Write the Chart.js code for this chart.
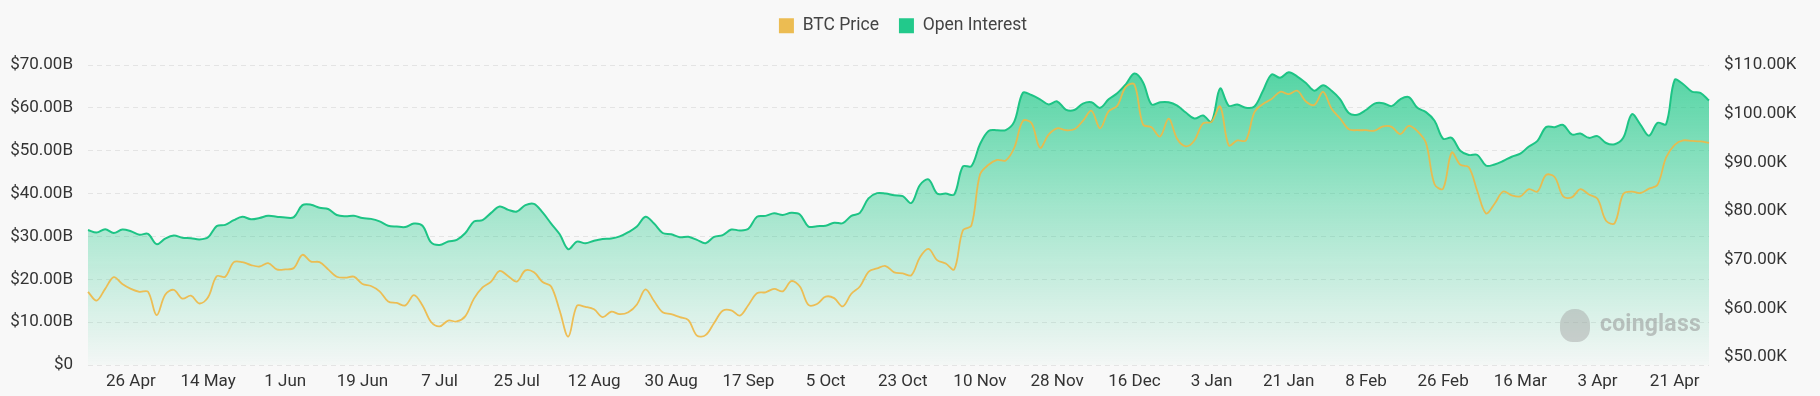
<!DOCTYPE html>
<html>
<head>
<meta charset="utf-8">
<script src="https://cdn.jsdelivr.net/npm/chart.js@4.4.1/dist/chart.umd.min.js"></script>
<style>
html,body{margin:0;padding:0;background:#f8f8f8;}
#wrap{position:relative;width:1820px;height:396px;overflow:hidden;}
#wm{position:absolute;left:1600px;top:310px;font:bold 23px Roboto,sans-serif;color:rgba(150,150,150,0.55);letter-spacing:0.2px;}
#wmicon{position:absolute;left:1560px;top:309px;width:30px;height:33px;border-radius:48% 48% 42% 42%;background:rgba(160,160,160,0.45);}
</style>
</head>
<body>
<div id="wrap">
<canvas id="c" width="1820" height="396"></canvas>
<div id="wmicon"></div>
<div id="wm">coinglass</div>
</div>
<script>
const categories = [
'16 Apr','18 Apr','20 Apr','22 Apr','24 Apr','26 Apr','28 Apr','30 Apr',
'2 May','4 May','6 May','8 May','10 May','12 May','14 May','16 May','18 May','20 May','22 May','24 May','26 May','28 May','30 May',
'1 Jun','3 Jun','5 Jun','7 Jun','9 Jun','11 Jun','13 Jun','15 Jun','17 Jun','19 Jun','21 Jun','23 Jun','25 Jun','27 Jun','29 Jun',
'1 Jul','3 Jul','5 Jul','7 Jul','9 Jul','11 Jul','13 Jul','15 Jul','17 Jul','19 Jul','21 Jul','23 Jul','25 Jul','27 Jul','29 Jul','31 Jul',
'2 Aug','4 Aug','6 Aug','8 Aug','10 Aug','12 Aug','14 Aug','16 Aug','18 Aug','20 Aug','22 Aug','24 Aug','26 Aug','28 Aug','30 Aug',
'1 Sep','3 Sep','5 Sep','7 Sep','9 Sep','11 Sep','13 Sep','15 Sep','17 Sep','19 Sep','21 Sep','23 Sep','25 Sep','27 Sep','29 Sep',
'1 Oct','3 Oct','5 Oct','7 Oct','9 Oct','11 Oct','13 Oct','15 Oct','17 Oct','19 Oct','21 Oct','23 Oct','25 Oct','27 Oct','29 Oct','31 Oct',
'2 Nov','4 Nov','6 Nov','8 Nov','10 Nov','12 Nov','14 Nov','16 Nov','18 Nov','20 Nov','22 Nov','24 Nov','26 Nov','28 Nov','30 Nov',
'2 Dec','4 Dec','6 Dec','8 Dec','10 Dec','12 Dec','14 Dec','16 Dec','18 Dec','20 Dec','22 Dec','24 Dec','26 Dec','28 Dec','30 Dec',
'1 Jan','3 Jan','5 Jan','7 Jan','9 Jan','11 Jan','13 Jan','15 Jan','17 Jan','19 Jan','21 Jan','23 Jan','25 Jan','27 Jan','29 Jan','31 Jan',
'2 Feb','4 Feb','6 Feb','8 Feb','10 Feb','12 Feb','14 Feb','16 Feb','18 Feb','20 Feb','22 Feb','24 Feb','26 Feb','28 Feb',
'2 Mar','4 Mar','6 Mar','8 Mar','10 Mar','12 Mar','14 Mar','16 Mar','18 Mar','20 Mar','22 Mar','24 Mar','26 Mar','28 Mar','30 Mar',
'1 Apr','3 Apr','5 Apr','7 Apr','9 Apr','11 Apr','13 Apr','15 Apr','17 Apr','19 Apr','21 Apr','23 Apr','25 Apr','27 Apr','29 Apr'
];

// BTC price, thousands of USD (right axis)
const btcPrice = [
63.4,61.6,64.0,66.4,65.0,64.0,63.4,63.4,58.6,62.8,
63.8,62.0,62.6,61.0,62.3,66.6,66.5,69.5,69.5,68.9,
68.6,69.3,68.0,68.0,68.3,71.0,69.6,69.5,68.0,66.5,
66.3,66.5,65.0,64.6,63.5,61.4,61.1,60.6,62.7,60.6,
57.2,56.3,57.5,57.3,58.4,62.0,64.3,65.5,67.7,66.6,
65.5,67.8,67.4,65.4,64.5,59.5,54.2,60.5,60.3,59.8,
58.2,59.3,58.8,59.2,60.8,63.9,61.5,59.2,58.8,58.2,
57.6,54.4,54.5,57.0,59.5,59.6,58.5,60.7,63.1,63.3,
64.0,63.5,65.6,64.5,60.7,60.9,62.4,62.1,60.4,63.0,
64.5,67.5,68.2,68.7,67.4,67.2,66.8,70.5,72.2,69.9,
69.2,68.0,76.0,77.0,87.5,89.5,90.5,90.4,93.0,98.5,
98.1,93.0,95.7,97.0,96.6,96.8,98.5,100.6,97.0,100.5,
101.6,105.5,106.0,97.8,97.2,95.3,99.0,94.8,93.3,94.5,
98.0,98.3,101.5,93.5,94.5,94.5,100.3,102.0,103.0,104.5,
104.0,104.7,102.5,101.8,104.5,101.0,99.0,96.8,96.6,96.6,
96.5,97.4,97.3,95.8,97.5,96.4,94.0,85.5,84.6,92.0,
89.5,89.0,84.0,79.5,81.5,84.0,83.2,83.0,84.5,84.0,
87.4,87.0,83.0,82.8,84.5,83.4,82.5,78.0,77.5,83.5,
84.0,83.7,84.6,85.4,91.0,93.6,94.5,94.4,94.3,94.0
];

// Open interest, billions of USD (left axis)
const openInterest = [
31.5,30.9,31.7,30.8,31.6,31.2,30.4,30.6,28.2,29.5,
30.2,29.7,29.6,29.3,29.8,32.4,32.7,33.8,34.6,34.0,
34.3,34.8,34.6,34.4,34.5,37.3,37.4,36.7,36.4,35.0,
34.7,34.8,34.3,34.1,33.5,32.5,32.3,32.2,33.0,32.5,
28.6,28.0,28.8,29.2,30.8,33.5,33.8,35.5,37.0,36.2,
35.8,37.3,37.6,35.6,33.0,30.5,27.0,28.8,28.4,29.0,
29.4,29.5,30.0,31.0,32.3,34.6,33.0,30.8,30.5,29.8,
29.9,29.2,28.4,29.9,30.3,31.6,31.4,31.8,34.6,34.8,
35.4,35.0,35.5,35.1,32.3,32.4,32.5,33.2,33.1,34.8,
35.5,38.9,40.1,40.0,39.6,39.4,37.8,42.0,43.3,40.0,
40.0,39.8,46.3,46.4,51.5,54.6,54.8,54.8,56.8,63.5,
63.0,62.0,60.8,61.5,59.6,59.5,61.0,61.3,60.0,62.0,
63.4,65.5,68.0,66.0,60.8,61.3,61.3,60.5,58.9,57.5,
58.2,56.8,64.5,60.5,60.8,60.0,60.3,64.0,67.8,67.0,
68.3,67.3,65.8,64.0,65.3,64.0,62.0,58.8,58.4,59.5,
61.0,61.1,60.4,62.0,62.5,60.0,59.0,57.0,52.8,53.0,
50.0,49.0,49.0,46.5,46.8,47.6,48.6,49.3,51.0,52.3,
55.5,55.5,56.0,53.8,54.0,53.0,53.4,51.8,51.5,53.0,
58.5,56.1,53.5,56.5,56.2,66.5,65.5,63.8,63.5,61.7
];

const xTickLabels = ['26 Apr','14 May','1 Jun','19 Jun','7 Jul','25 Jul','12 Aug','30 Aug','17 Sep','5 Oct','23 Oct','10 Nov','28 Nov','16 Dec','3 Jan','21 Jan','8 Feb','26 Feb','16 Mar','3 Apr','21 Apr'];
const leftTicks = [0,10,20,30,40,50,60,70];
const rightTicks = [50,60,70,80,90,100,110];
const seriesNames = ['BTC Price','Open Interest'];
const legendColors = ['#ecbc52','#22c98b'];

const FONT = 'Roboto, "Noto Sans", sans-serif';

const legendSpacer = {
  id:'legendSpacer',
  beforeUpdate(chart){
    if (chart.legend && !chart.legend._spaced){
      const f = chart.legend.fit;
      chart.legend.fit = function(){ f.call(this); this.height += 20.5; };
      chart.legend._spaced = true;
    }
  }
};

const ctx = document.getElementById('c').getContext('2d');
new Chart(ctx, {
  type:'line',
  data:{
    labels: categories,
    datasets:[
      {
        label: seriesNames[0],
        data: btcPrice,
        yAxisID:'y1',
        borderColor:'rgba(238,184,72,0.92)',
        backgroundColor: legendColors[0],
        borderWidth:1.8,
        pointRadius:0,
        tension:0.35,
        fill:false
      },
      {
        label: seriesNames[1],
        data: openInterest,
        yAxisID:'y',
        borderColor:'#1dc485',
        borderWidth:2,
        pointRadius:0,
        tension:0.35,
        fill:'origin',
        backgroundColor:(c)=>{
          const area = c.chart.chartArea;
          if(!area) return 'rgba(22,199,132,0.3)';
          const g = c.chart.ctx.createLinearGradient(0, area.top, 0, area.bottom);
          g.addColorStop(0,'rgba(22,199,132,0.74)');
          g.addColorStop(0.5,'rgba(22,199,132,0.36)');
          g.addColorStop(1,'rgba(22,199,132,0.02)');
          return g;
        }
      }
    ]
  },
  options:{
    responsive:false,
    animation:false,
    devicePixelRatio:1,
    layout:{autoPadding:false, padding:{left:10,right:24,top:-3,bottom:3}},
    plugins:{
      tooltip:{enabled:false},
      legend:{
        position:'top',
        labels:{
          boxWidth:15, boxHeight:15, padding:20,
          font:{family:FONT,size:17.5},
          color:'#444',
          generateLabels:(chart)=>chart.data.datasets.map((ds,i)=>({
            text:ds.label, fillStyle:legendColors[i], strokeStyle:legendColors[i],
            lineWidth:0, hidden:false, datasetIndex:i, fontColor:'#444'
          }))
        }
      }
    },
    scales:{
      x:{
        grid:{display:false, drawTicks:false},
        border:{display:false},
        afterFit:(s)=>{ s.height = 28; },
        ticks:{
          autoSkip:false, maxRotation:0, minRotation:0, padding:7,
          font:{family:FONT,size:17}, color:'#333',
          callback:function(v,i){ const l = categories[i]; return xTickLabels.includes(l) ? l : ''; }
        }
      },
      y:{
        position:'left',
        min:leftTicks[0], max:leftTicks[leftTicks.length-1],
        grid:{color:'#e4e4e4', drawTicks:false, lineWidth:1},
        border:{display:false, dash:[5,4]},
        afterFit:(s)=>{ s.width = 78; },
        ticks:{
          stepSize:10, padding:15,
          font:{family:FONT,size:17}, color:'#333',
          callback:(v)=> v===0 ? '$0' : '$'+v.toFixed(2)+'B'
        }
      },
      y1:{
        position:'right',
        min:48.36, max:110,
        grid:{display:false, drawTicks:false},
        border:{display:false},
        afterFit:(s)=>{ s.width = 87; },
        afterBuildTicks:(axis)=>{ axis.ticks = rightTicks.map(v=>({value:v})); },
        ticks:{
          padding:15,
          font:{family:FONT,size:17}, color:'#333',
          callback:(v)=> '$'+Number(v).toFixed(2)+'K'
        }
      }
    }
  },
  plugins:[legendSpacer]
});
</script>
</body>
</html>
